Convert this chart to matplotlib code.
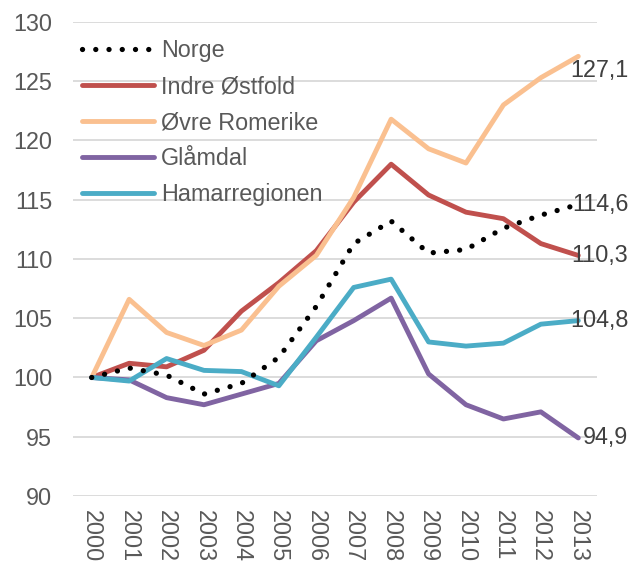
import matplotlib
matplotlib.use("Agg")
import matplotlib.pyplot as plt

plt.rcParams['font.family'] = ['Liberation Sans', 'DejaVu Sans']

years = [str(y) for y in range(2000, 2014)]
norge = [100, 100.8, 100.2, 98.6, 99.5, 101.7, 106.0, 111.3, 113.2, 110.5, 110.8, 112.6, 113.7, 114.6]
indre_ostfold = [100, 101.2, 100.9, 102.3, 105.6, 108.0, 110.7, 114.8, 118.0, 115.4, 113.95, 113.4, 111.3, 110.3]
ovre_romerike = [100, 106.6, 103.8, 102.7, 104.0, 107.7, 110.3, 115.2, 121.8, 119.3, 118.1, 123.0, 125.3, 127.1]
glamdal = [100, 99.8, 98.3, 97.7, 98.6, 99.5, 103.1, 104.8, 106.7, 100.3, 97.7, 96.5, 97.1, 94.9]
hamarregionen = [100, 99.7, 101.6, 100.6, 100.5, 99.3, 103.4, 107.6, 108.3, 103.0, 102.65, 102.9, 104.5, 104.8]
end_labels = ["114,6", "110,3", "127,1", "94,9", "104,8"]
series_names = ["Norge", "Indre Østfold", "Øvre Romerike", "Glåmdal", "Hamarregionen"]
y_ticks = [90, 95, 100, 105, 110, 115, 120, 125, 130]

colors = ["#000000", "#C0504D", "#FAC090", "#8064A2", "#4BACC6"]
series = [norge, indre_ostfold, ovre_romerike, glamdal, hamarregionen]

fig = plt.figure(figsize=(6.30, 5.62), dpi=100)
ax = fig.add_axes([73/630, 1-496/562, (597-73)/630, (496-22)/562])

x = list(range(len(years)))
for i, (name, vals, c) in enumerate(zip(series_names, series, colors)):
    if i == 0:
        ax.plot(x, vals, color=c, lw=3.8, linestyle=(0, (0.01, 2.5)),
                dash_capstyle='round', solid_capstyle='round', label=name, zorder=5)
    else:
        ax.plot(x, vals, color=c, lw=3.5, solid_capstyle='round',
                solid_joinstyle='round', label=name, zorder=3 + i * 0.1)

for i, (vals, lab) in enumerate(zip(series, end_labels)):
    dy = -14 if i == 2 else 0
    ax.annotate(lab, (x[-1], vals[-1]), xytext=(50 * 0.72, dy * 0.72),
                textcoords='offset points', ha='right', va='center',
                fontsize=16.8, color='#404040', zorder=10, annotation_clip=False)

ax.set_xlim(-0.5, len(years) - 0.5)
ax.set_ylim(90, 130)
ax.set_yticks(y_ticks)
ax.set_yticklabels([str(t) for t in y_ticks])
ax.set_xticks(x)
ax.set_xticklabels(years, rotation=270)
ax.grid(axis='y', color='#D9D9D9', lw=1.3, zorder=0)
ax.set_axisbelow(True)
for s in ax.spines.values():
    s.set_visible(False)
ax.tick_params(axis='both', length=0, labelsize=16.8, labelcolor='#595959')
ax.tick_params(axis='y', pad=15)
ax.tick_params(axis='x', pad=10)

leg = ax.legend(loc='upper left', bbox_to_anchor=(82/630, 1-39/562),
                bbox_transform=fig.transFigure, frameon=False, fontsize=16.8,
                handlelength=3.1, handletextpad=0.3, labelspacing=0.56,
                borderpad=0, borderaxespad=0)
for t in leg.get_texts():
    t.set_color('#595959')

fig.savefig("out.png", dpi=100)
